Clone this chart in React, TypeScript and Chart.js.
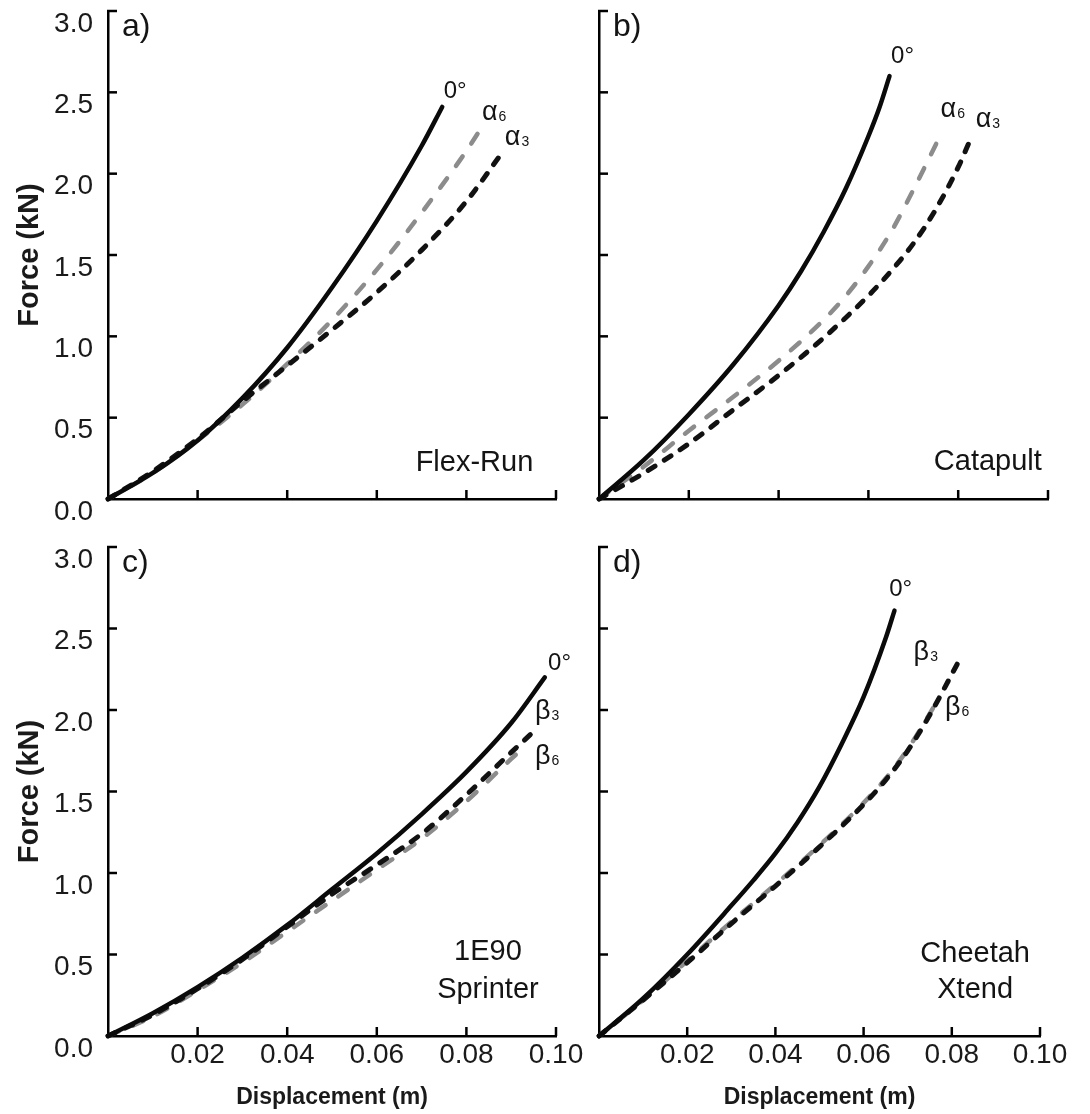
import React, { useEffect, useRef } from 'react';
import { Chart, registerables } from 'chart.js';

Chart.register(...registerables);

const FONT = '"Liberation Sans", Arial, Helvetica, sans-serif';

// ---------------- axes ----------------
const xTickValues = [0, 0.02, 0.04, 0.06, 0.08, 0.1];
const xTickLabels = ['', '0.02', '0.04', '0.06', '0.08', '0.10'];
const yTickValues = [0, 0.5, 1, 1.5, 2, 2.5, 3];
const yTickLabels = ['0.0', '0.5', '1.0', '1.5', '2.0', '2.5', '3.0'];
const xAxisTitle = 'Displacement (m)';
const yAxisTitle = 'Force (kN)';

// ---------------- a) Flex-Run ----------------
const flexRunZeroX = [0, 0.01, 0.02, 0.03, 0.04, 0.05, 0.06, 0.07, 0.0746];
const flexRunZeroY = [0, 0.16, 0.36, 0.62, 0.93, 1.3, 1.71, 2.17, 2.41];
const flexRunAlpha6X = [0, 0.01, 0.02, 0.03, 0.04, 0.05, 0.06, 0.07, 0.08, 0.0833];
const flexRunAlpha6Y = [0, 0.16, 0.36, 0.58, 0.83, 1.1, 1.41, 1.76, 2.14, 2.28];
const flexRunAlpha3X = [0, 0.01, 0.02, 0.03, 0.04, 0.05, 0.06, 0.07, 0.08, 0.088];
const flexRunAlpha3Y = [0, 0.17, 0.37, 0.6, 0.82, 1.04, 1.27, 1.53, 1.83, 2.13];
const flexRunTags = ['0°', 'α₆', 'α₃'];
const flexRunTagX = [0.0775, 0.0862, 0.0913];
const flexRunTagY = [2.52, 2.37, 2.22];
const flexRunName = ['Flex-Run'];
const flexRunNameX = 0.0818;
const flexRunNameY = [0.233];

// ---------------- b) Catapult ----------------
const catapultZeroX = [0, 0.01, 0.02, 0.03, 0.04, 0.045, 0.05, 0.055, 0.06, 0.0625, 0.0647];
const catapultZeroY = [0, 0.24, 0.52, 0.83, 1.19, 1.4, 1.64, 1.91, 2.23, 2.41, 2.6];
const catapultAlpha6X = [0, 0.01, 0.02, 0.03, 0.04, 0.05, 0.055, 0.06, 0.065, 0.07, 0.0761];
const catapultAlpha6Y = [0, 0.2, 0.42, 0.63, 0.85, 1.1, 1.25, 1.43, 1.64, 1.9, 2.24];
const catapultAlpha3X = [0, 0.01, 0.02, 0.03, 0.04, 0.05, 0.06, 0.065, 0.07, 0.075, 0.08, 0.0824];
const catapultAlpha3Y = [0, 0.16, 0.34, 0.55, 0.76, 0.99, 1.25, 1.4, 1.57, 1.78, 2.04, 2.19];
const catapultTags = ['0°', 'α₆', 'α₃'];
const catapultTagX = [0.0676, 0.0788, 0.0866];
const catapultTagY = [2.73, 2.39, 2.33];
const catapultName = ['Catapult'];
const catapultNameX = 0.0866;
const catapultNameY = [0.241];

// ---------------- c) 1E90 Sprinter ----------------
const sprinterZeroX = [0, 0.01, 0.02, 0.03, 0.04, 0.05, 0.06, 0.07, 0.08, 0.09, 0.0975];
const sprinterZeroY = [0, 0.14, 0.3, 0.48, 0.68, 0.9, 1.12, 1.36, 1.62, 1.92, 2.2];
const sprinterBeta3X = [0, 0.01, 0.02, 0.03, 0.04, 0.05, 0.06, 0.07, 0.08, 0.09, 0.0955];
const sprinterBeta3Y = [0, 0.13, 0.29, 0.47, 0.67, 0.87, 1.05, 1.24, 1.48, 1.74, 1.88];
const sprinterBeta6X = [0, 0.01, 0.02, 0.03, 0.04, 0.05, 0.06, 0.07, 0.08, 0.09, 0.092];
const sprinterBeta6Y = [0, 0.12, 0.28, 0.45, 0.64, 0.83, 1.02, 1.21, 1.44, 1.7, 1.75];
const sprinterTags = ['0°', 'β₃', 'β₆'];
const sprinterTagX = [0.1008, 0.098, 0.098];
const sprinterTagY = [2.3, 1.99, 1.71];
const sprinterName = ['1E90', 'Sprinter'];
const sprinterNameX = 0.0848;
const sprinterNameY = [0.53, 0.3];

// ---------------- d) Cheetah Xtend ----------------
const cheetahZeroX = [0, 0.01, 0.02, 0.03, 0.035, 0.04, 0.045, 0.05, 0.055, 0.06, 0.065, 0.067];
const cheetahZeroY = [0, 0.23, 0.5, 0.8, 0.955, 1.12, 1.31, 1.53, 1.79, 2.08, 2.44, 2.61];
const cheetahBeta3X = [0, 0.01, 0.02, 0.03, 0.04, 0.05, 0.06, 0.065, 0.07, 0.075, 0.0814];
const cheetahBeta3Y = [0, 0.22, 0.45, 0.69, 0.92, 1.16, 1.42, 1.57, 1.75, 1.97, 2.29];
const cheetahBeta6X = [0, 0.01, 0.02, 0.03, 0.04, 0.05, 0.06, 0.065, 0.07, 0.0775];
const cheetahBeta6Y = [0, 0.22, 0.46, 0.7, 0.93, 1.17, 1.43, 1.58, 1.76, 2.09];
const cheetahTags = ['0°', 'β₃', 'β₆'];
const cheetahTagX = [0.0684, 0.0741, 0.0812];
const cheetahTagY = [2.75, 2.35, 2.01];
const cheetahName = ['Cheetah', 'Xtend'];
const cheetahNameX = 0.0853;
const cheetahNameY = [0.52, 0.3];

// ---------------- styles ----------------
type Kind = 'solid' | 'black' | 'gray';
const lineStyle = (kind: Kind) => {
  if (kind === 'solid') return { borderColor: '#0a0a0a', borderWidth: 4.5, borderDash: [] as number[], borderCapStyle: 'round' };
  if (kind === 'black') return { borderColor: '#111111', borderWidth: 5, borderDash: [8, 11], borderCapStyle: 'round' };
  return { borderColor: '#8c8c8c', borderWidth: 4.5, borderDash: [11.5, 15.5], borderCapStyle: 'round' };
};

type Series = { name: string; kind: Kind; xs: number[]; ys: number[] };
type PanelCfg = {
  letter: string;
  box: { left: number; top: number; width: number; height: number };
  area: { left: number; top: number; right: number; bottom: number };
  showX: boolean;
  showY: boolean;
  series: Series[];
  tags: string[];
  tagX: number[];
  tagY: number[];
  name: string[];
  nameX: number;
  nameY: number[];
};

const panels: PanelCfg[] = [
  {
    letter: 'a)',
    box: { left: 0, top: 0, width: 590, height: 540 },
    area: { left: 108, top: 11, right: 556, bottom: 499 },
    showX: false, showY: true,
    series: [
      { name: '0°', kind: 'solid', xs: flexRunZeroX, ys: flexRunZeroY },
      { name: 'α₃', kind: 'black', xs: flexRunAlpha3X, ys: flexRunAlpha3Y },
      { name: 'α₆', kind: 'gray', xs: flexRunAlpha6X, ys: flexRunAlpha6Y },
    ],
    tags: flexRunTags, tagX: flexRunTagX, tagY: flexRunTagY,
    name: flexRunName, nameX: flexRunNameX, nameY: flexRunNameY,
  },
  {
    letter: 'b)',
    box: { left: 590, top: 0, width: 500, height: 540 },
    area: { left: 599, top: 11, right: 1048, bottom: 499 },
    showX: false, showY: false,
    series: [
      { name: '0°', kind: 'solid', xs: catapultZeroX, ys: catapultZeroY },
      { name: 'α₃', kind: 'black', xs: catapultAlpha3X, ys: catapultAlpha3Y },
      { name: 'α₆', kind: 'gray', xs: catapultAlpha6X, ys: catapultAlpha6Y },
    ],
    tags: catapultTags, tagX: catapultTagX, tagY: catapultTagY,
    name: catapultName, nameX: catapultNameX, nameY: catapultNameY,
  },
  {
    letter: 'c)',
    box: { left: 0, top: 540, width: 590, height: 574 },
    area: { left: 108, top: 547, right: 556, bottom: 1036 },
    showX: true, showY: true,
    series: [
      { name: '0°', kind: 'solid', xs: sprinterZeroX, ys: sprinterZeroY },
      { name: 'β₃', kind: 'black', xs: sprinterBeta3X, ys: sprinterBeta3Y },
      { name: 'β₆', kind: 'gray', xs: sprinterBeta6X, ys: sprinterBeta6Y },
    ],
    tags: sprinterTags, tagX: sprinterTagX, tagY: sprinterTagY,
    name: sprinterName, nameX: sprinterNameX, nameY: sprinterNameY,
  },
  {
    letter: 'd)',
    box: { left: 590, top: 540, width: 500, height: 574 },
    area: { left: 599, top: 547, right: 1040, bottom: 1036 },
    showX: true, showY: false,
    series: [
      { name: '0°', kind: 'solid', xs: cheetahZeroX, ys: cheetahZeroY },
      { name: 'β₃', kind: 'black', xs: cheetahBeta3X, ys: cheetahBeta3Y },
      { name: 'β₆', kind: 'gray', xs: cheetahBeta6X, ys: cheetahBeta6Y },
    ],
    tags: cheetahTags, tagX: cheetahTagX, tagY: cheetahTagY,
    name: cheetahName, nameX: cheetahNameX, nameY: cheetahNameY,
  },
];

const SUBS = '₀₁₂₃₄₅₆₇₈₉';

function drawTag(ctx: CanvasRenderingContext2D, text: string, cx: number, cy: number) {
  const last = text[text.length - 1];
  const si = SUBS.indexOf(last);
  ctx.textBaseline = 'alphabetic';
  ctx.textAlign = 'left';
  if (si < 0) {
    ctx.font = `24px ${FONT}`;
    const w = ctx.measureText(text).width;
    ctx.fillText(text, cx - w / 2, cy + 8.5);
    return;
  }
  const main = text.slice(0, -1);
  const sub = String(si);
  ctx.font = `27px ${FONT}`;
  const mw = ctx.measureText(main).width;
  ctx.font = `14px ${FONT}`;
  const sw = ctx.measureText(sub).width;
  const x0 = cx - (mw + sw + 1) / 2;
  const base = cy + 7;
  ctx.font = `27px ${FONT}`;
  ctx.fillText(main, x0, base);
  ctx.font = `14px ${FONT}`;
  ctx.fillText(sub, x0 + mw + 1, base + 1);
}

function makeDecor(p: PanelCfg) {
  return {
    id: 'decor',
    afterDraw(chart: any) {
      const { ctx, chartArea: ca, scales } = chart;
      const xs = scales.x;
      const ys = scales.y;
      ctx.save();
      ctx.strokeStyle = '#000';
      ctx.lineWidth = 2.5;
      ctx.lineCap = 'butt';
      xTickValues.forEach((v) => {
        if (v === 0) return;
        const px = xs.getPixelForValue(v);
        ctx.beginPath();
        ctx.moveTo(px, ca.bottom);
        ctx.lineTo(px, ca.bottom - 9);
        ctx.stroke();
      });
      yTickValues.forEach((v) => {
        if (v === 0) return;
        const py = ys.getPixelForValue(v);
        ctx.beginPath();
        ctx.moveTo(ca.left - 1, py);
        ctx.lineTo(ca.left + 9, py);
        ctx.stroke();
      });
      ctx.fillStyle = '#141414';
      ctx.textBaseline = 'alphabetic';
      ctx.textAlign = 'left';
      ctx.font = `32px ${FONT}`;
      ctx.fillText(p.letter, ca.left + 14, ca.top + 25);
      ctx.font = `29px ${FONT}`;
      ctx.textAlign = 'center';
      p.name.forEach((t, i) => {
        ctx.fillText(t, xs.getPixelForValue(p.nameX), ys.getPixelForValue(p.nameY[i]) + 10.4);
      });
      p.tags.forEach((t, i) => drawTag(ctx, t, xs.getPixelForValue(p.tagX[i]), ys.getPixelForValue(p.tagY[i])));
      ctx.restore();
    },
  };
}

function Panel({ p }: { p: PanelCfg }) {
  const ref = useRef<HTMLCanvasElement | null>(null);
  useEffect(() => {
    const canvas = ref.current;
    if (!canvas) return;
    const { box, area } = p;
    const datasets = p.series.map((s) => ({
      label: s.name,
      data: s.xs.map((x, i) => ({ x, y: s.ys[i] })),
      showLine: true,
      pointRadius: 0,
      pointHoverRadius: 0,
      fill: false,
      clip: false as any,
      cubicInterpolationMode: 'monotone' as const,
      ...lineStyle(s.kind),
    }));
    const chart = new Chart(canvas, {
      type: 'scatter',
      data: { datasets: datasets as any },
      options: {
        responsive: false,
        maintainAspectRatio: false,
        animation: false,
        events: [],
        layout: {
          padding: {
            left: 0,
            top: area.top - box.top,
            right: box.left + box.width - area.right,
            bottom: 0,
          },
        },
        plugins: { legend: { display: false }, tooltip: { enabled: false }, title: { display: false } },
        scales: {
          x: {
            type: 'linear',
            position: 'bottom',
            min: 0,
            max: 0.1,
            afterBuildTicks: (s: any) => {
              s.ticks = xTickValues.map((v) => ({ value: v }));
            },
            afterFit: (s: any) => {
              s.height = box.top + box.height - area.bottom;
              s.paddingLeft = 0; s.paddingRight = 0; s.paddingTop = 0; s.paddingBottom = 0;
            },
            grid: { display: false, drawTicks: false },
            border: { display: true, color: '#000', width: 2.5 },
            ticks: {
              display: p.showX,
              padding: 2,
              color: '#1a1a1a',
              font: { family: FONT, size: 28 },
              maxRotation: 0,
              autoSkip: false,
              callback: (_v: any, i: number) => xTickLabels[i],
            },
            title: {
              display: p.showX,
              text: xAxisTitle,
              color: '#1a1a1a',
              font: { family: FONT, size: 23, weight: 'bold' },
              padding: { top: 0, bottom: 3 },
            },
          },
          y: {
            type: 'linear',
            position: 'left',
            min: 0,
            max: 3,
            afterBuildTicks: (s: any) => {
              s.ticks = yTickValues.map((v) => ({ value: v }));
            },
            afterFit: (s: any) => {
              s.width = area.left - box.left;
              s.paddingLeft = 0; s.paddingRight = 0; s.paddingTop = 0; s.paddingBottom = 0;
            },
            grid: { display: false, drawTicks: false },
            border: { display: true, color: '#000', width: 2.5 },
            ticks: {
              display: p.showY,
              padding: 15,
              labelOffset: 13,
              color: '#1a1a1a',
              font: { family: FONT, size: 28 },
              autoSkip: false,
              callback: (_v: any, i: number) => yTickLabels[i],
            },
            title: {
              display: p.showY,
              text: yAxisTitle,
              color: '#1a1a1a',
              font: { family: FONT, size: 29, weight: 'bold' },
              padding: { top: 13, bottom: 0 },
            },
          },
        },
      } as any,
      plugins: [makeDecor(p)],
    });
    return () => chart.destroy();
  }, [p]);
  return (
    <canvas
      ref={ref}
      width={p.box.width}
      height={p.box.height}
      style={{ position: 'absolute', left: p.box.left, top: p.box.top, width: p.box.width, height: p.box.height }}
    />
  );
}

export default function App() {
  return (
    <div style={{ position: 'absolute', left: 0, top: 0, width: 1090, height: 1114, background: '#ffffff', overflow: 'hidden' }}>
      {panels.map((p) => (
        <Panel key={p.letter} p={p} />
      ))}
    </div>
  );
}
